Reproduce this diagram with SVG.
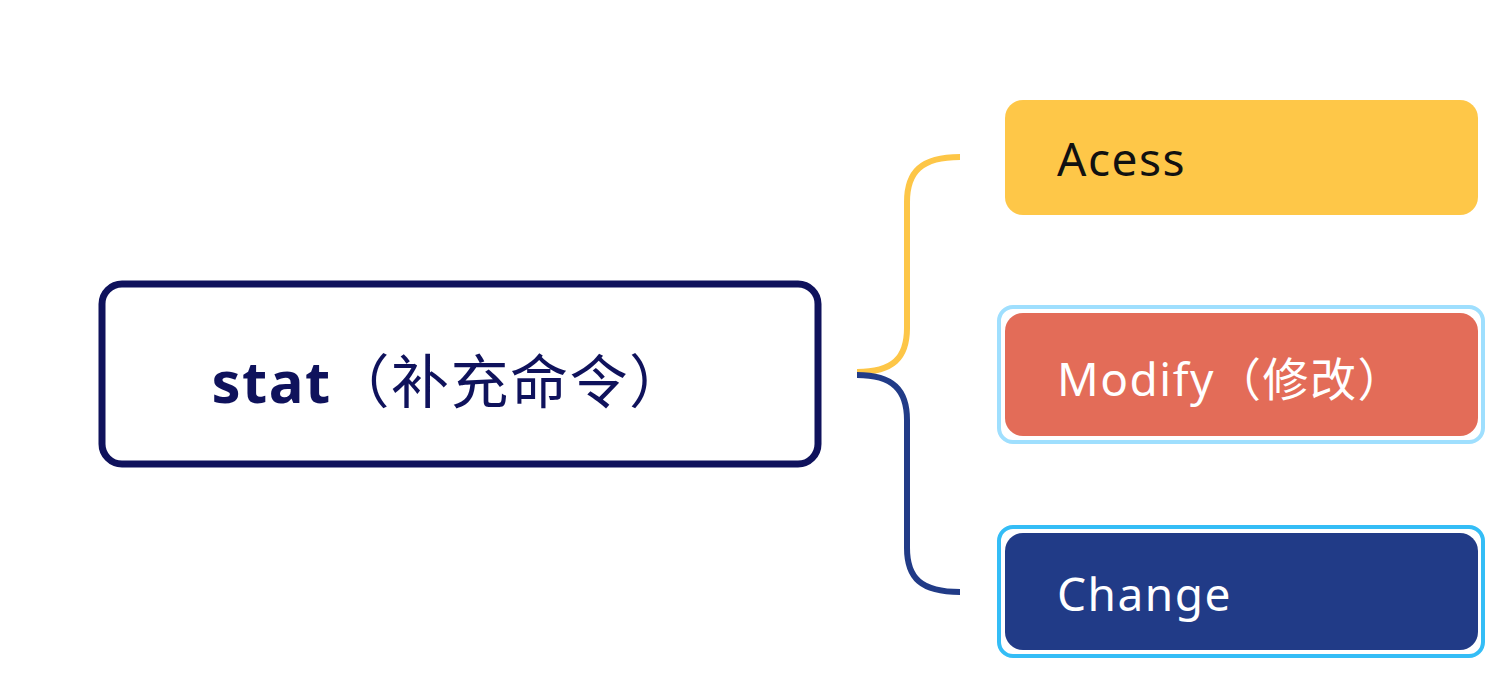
<svg xmlns="http://www.w3.org/2000/svg" width="1510" height="679" viewBox="0 0 1510 679">
<style>
.lbl{font-family:"Noto Sans","Noto Sans CJK SC",sans-serif;font-size:46px;letter-spacing:1.5px}
.conn{fill:none;stroke-width:6;stroke-linecap:butt}
</style>
<rect width="1510" height="679" fill="#ffffff"/>
<g id="connectors">
<path class="conn" stroke="#fdc647" d="M857,372 C893,372 907,358 907,328 L907,202 C907,172 921,157 960,157"/>
<path class="conn" stroke="#213b87" d="M857,375 C893,375 907,390 907,420 L907,548 C907,578 921,592 960,592"/>
</g>
<g id="root">
<rect x="102" y="284" width="716" height="180" rx="20" fill="#ffffff" stroke="#0f125c" stroke-width="7"/>
<text x="450" y="403" text-anchor="middle" fill="#0f125c" style="font-family:'Noto Sans','Noto Sans CJK SC',sans-serif;font-size:58px;letter-spacing:1.5px"><tspan font-weight="bold">stat</tspan>（补充命令）</text>
</g>
<g id="acess">
<rect x="1005" y="100" width="473" height="115" rx="18" fill="#fec748"/>
<text class="lbl" x="1057" y="176" fill="#111111">Acess</text>
</g>
<g id="modify">
<rect x="999" y="307" width="484" height="135" rx="14" fill="none" stroke="#9fdffe" stroke-width="4"/>
<rect x="1005" y="313" width="473" height="123" rx="18" fill="#e36c58"/>
<text class="lbl" x="1057" y="396" fill="#ffffff">Modify（修改）</text>
</g>
<g id="change">
<rect x="999" y="527" width="484" height="129" rx="14" fill="none" stroke="#34bdf6" stroke-width="4"/>
<rect x="1005" y="533" width="473" height="117" rx="18" fill="#213b87"/>
<text class="lbl" x="1057" y="611" fill="#ffffff">Change</text>
</g>
</svg>
